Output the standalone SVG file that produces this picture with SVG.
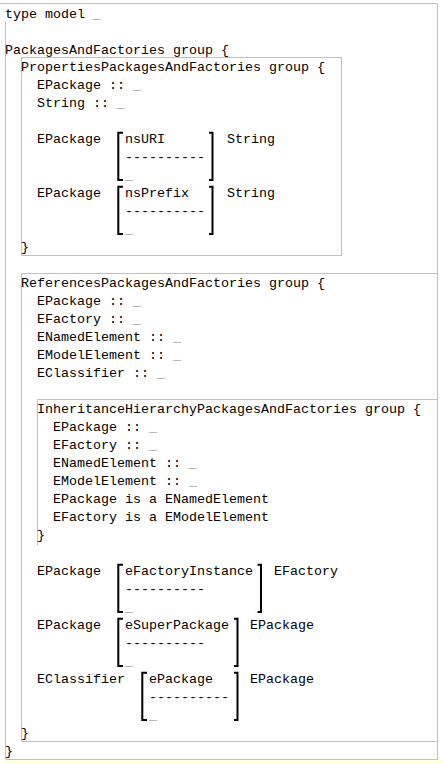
<svg xmlns="http://www.w3.org/2000/svg" width="443" height="764" viewBox="0 0 443 764">
<style>
text{font-family:"Liberation Mono","Courier New",monospace;font-size:13.33px;fill:#000;white-space:pre}
.ph{fill:#808080}
.box{fill:none;stroke:#c0c0c0;stroke-width:1}
.br{fill:none;stroke:#000;stroke-width:2;stroke-linejoin:miter;stroke-linecap:butt}
</style>
<rect x="0" y="0" width="443" height="764" fill="#fff"/>
<rect x="6" y="760" width="437" height="4" fill="#ffffe0"/>
<g id="frame">
<path class="box" d="M0,3.5 H437.5 V760 M5.5,21 V759.5 H437.5"/>
</g>
<g id="typeModel">
<text x="5" y="17.5">type model <tspan class="ph">_</tspan></text>
<text x="5" y="53.5">PackagesAndFactories group {</text>
<text x="5" y="755">}</text>
</g>
<g id="properties">
<rect class="box" x="21.5" y="57.5" width="320" height="198"/>
<text x="21" y="71">PropertiesPackagesAndFactories group {</text>
<text x="37" y="89">EPackage :: <tspan class="ph">_</tspan></text>
<text x="37" y="107">String :: <tspan class="ph">_</tspan></text>
<text x="37" y="143">EPackage</text>
<path class="br" d="M123,132.7 H118.3 V180 H123 M209,132.7 H212.5 V180 H209"/>
<text x="125" y="143">nsURI</text>
<text x="125" y="161">----------</text>
<text x="125" y="179" class="ph">_</text>
<text x="227" y="143">String</text>
<text x="37" y="197">EPackage</text>
<path class="br" d="M123,186.7 H118.3 V234 H123 M209,186.7 H212.5 V234 H209"/>
<text x="125" y="197">nsPrefix</text>
<text x="125" y="215">----------</text>
<text x="125" y="233" class="ph">_</text>
<text x="227" y="197">String</text>
<text x="21" y="251">}</text>
</g>
<g id="references">
<path class="box" d="M437.5,273.5 H21.5 V741.5 H437.5"/>
<text x="21" y="287">ReferencesPackagesAndFactories group {</text>
<text x="37" y="305">EPackage :: <tspan class="ph">_</tspan></text>
<text x="37" y="323">EFactory :: <tspan class="ph">_</tspan></text>
<text x="37" y="341">ENamedElement :: <tspan class="ph">_</tspan></text>
<text x="37" y="359">EModelElement :: <tspan class="ph">_</tspan></text>
<text x="37" y="377">EClassifier :: <tspan class="ph">_</tspan></text>
<text x="37" y="575">EPackage</text>
<path class="br" d="M123,564.7 H118.3 V612 H123 M257.5,564.7 H261 V612 H257.5"/>
<text x="125" y="575">eFactoryInstance</text>
<text x="125" y="593">----------</text>
<text x="125" y="611" class="ph">_</text>
<text x="274" y="575">EFactory</text>
<text x="37" y="629">EPackage</text>
<path class="br" d="M123,618.7 H118.3 V666 H123 M234,618.7 H237.5 V666 H234"/>
<text x="125" y="629">eSuperPackage</text>
<text x="125" y="647">----------</text>
<text x="125" y="665" class="ph">_</text>
<text x="250" y="629">EPackage</text>
<text x="37" y="683">EClassifier</text>
<path class="br" d="M147,672.7 H142.3 V720 H147 M234,672.7 H237.5 V720 H234"/>
<text x="149" y="683">ePackage</text>
<text x="149" y="701">----------</text>
<text x="149" y="719" class="ph">_</text>
<text x="250" y="683">EPackage</text>
<text x="21" y="737">}</text>
</g>
<g id="inheritance">
<path class="box" d="M437.5,399.5 H37.5 V545.5"/>
<text x="37" y="413">InheritanceHierarchyPackagesAndFactories group {</text>
<text x="53" y="431">EPackage :: <tspan class="ph">_</tspan></text>
<text x="53" y="449">EFactory :: <tspan class="ph">_</tspan></text>
<text x="53" y="467">ENamedElement :: <tspan class="ph">_</tspan></text>
<text x="53" y="485">EModelElement :: <tspan class="ph">_</tspan></text>
<text x="53" y="503">EPackage is a ENamedElement</text>
<text x="53" y="521">EFactory is a EModelElement</text>
<text x="37" y="539">}</text>
</g>
<g id="connectors"></g>
</svg>
